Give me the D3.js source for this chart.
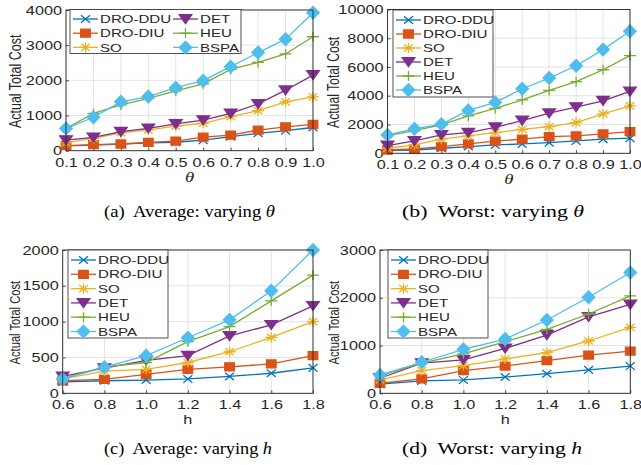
<!DOCTYPE html>
<html>
<head>
<meta charset="utf-8">
<script src="https://cdn.jsdelivr.net/npm/d3@7"></script>
<style>
  body { margin: 0; background: #fff; }
  svg { font-family: "Liberation Sans", Arial, sans-serif; }
</style>
</head>
<body>
<svg id="fig" width="641" height="465"></svg>
<script>
const seriesNames = ["DRO-DDU", "DRO-DIU", "SO", "DET", "HEU", "BSPA"];
const seriesColors = ["#0072BD", "#D95319", "#EDB120", "#7E2F8E", "#77AC30", "#4DBEEE"];
const seriesMarkers = ["x", "square", "star", "triangleDown", "plus", "diamond"];

const thetaValues = [0.1, 0.2, 0.3, 0.4, 0.5, 0.6, 0.7, 0.8, 0.9, 1.0];
const hValues = [0.6, 0.8, 1.0, 1.2, 1.4, 1.6, 1.8];

// one row per series, same order as seriesNames
const avgThetaCost = [
  [140, 160, 190, 225, 240, 300, 400, 495, 570, 660],
  [145, 170, 190, 235, 275, 385, 445, 585, 680, 750],
  [230, 350, 510, 590, 700, 780, 970, 1140, 1390, 1530],
  [300, 380, 540, 635, 760, 870, 1060, 1330, 1720, 2150],
  [630, 1060, 1300, 1490, 1700, 1900, 2310, 2510, 2750, 3240],
  [630, 950, 1390, 1540, 1790, 1990, 2390, 2790, 3170, 3920]
];
const worstThetaCost = [
  [190, 230, 350, 470, 580, 650, 740, 860, 980, 1050],
  [230, 300, 470, 650, 840, 980, 1160, 1210, 1350, 1510],
  [350, 580, 980, 1210, 1440, 1670, 1860, 2140, 2740, 3300],
  [540, 860, 1280, 1440, 1810, 2280, 2790, 3210, 3650, 4300],
  [1230, 1580, 1980, 2600, 3120, 3720, 4370, 4980, 5810, 6790],
  [1280, 1700, 2020, 2980, 3540, 4490, 5230, 6090, 7210, 8490]
];
const avgHCost = [
  [160, 175, 185, 200, 235, 280, 355],
  [175, 195, 265, 335, 370, 410, 525],
  [200, 310, 335, 430, 580, 780, 1000],
  [235, 350, 460, 525, 800, 955, 1220],
  [200, 370, 430, 720, 930, 1290, 1650],
  [200, 365, 525, 775, 1025, 1430, 2000]
];
const worstHCost = [
  [190, 260, 280, 340, 410, 490, 570],
  [210, 300, 475, 570, 685, 800, 885],
  [280, 475, 580, 720, 850, 1095, 1380],
  [315, 630, 700, 940, 1220, 1600, 1860],
  [370, 630, 825, 1080, 1340, 1660, 2040],
  [385, 650, 920, 1135, 1535, 2010, 2530]
];

const avgThetaTicks = [0, 1000, 2000, 3000, 4000];
const worstThetaTicks = [0, 2000, 4000, 6000, 8000, 10000];
const avgHTicks = [0, 500, 1000, 1500, 2000];
const worstHTicks = [0, 1000, 2000, 3000];

const captions = [
  ["(a)\u00a0 Average: varying ", "θ"],
  ["(b)\u00a0 Worst: varying ", "θ"],
  ["(c)\u00a0 Average: varying ", "h"],
  ["(d)\u00a0 Worst: varying ", "h"]
];

const SX = 1.3;   // the figure is stretched horizontally
const SERIF = "'Liberation Serif', 'Times New Roman', serif";
const svg = d3.select("#fig");

function markerPath(type) {
  switch (type) {
    case "x": return "M-4.5,-3.8L4.5,3.8M-4.5,3.8L4.5,-3.8";
    case "plus": return "M-6,0L6,0M0,-5L0,5";
    case "star": return "M-6,0L6,0M0,-5L0,5M-4.3,-3.6L4.3,3.6M-4.3,3.6L4.3,-3.6";
    case "square": return "M-4.8,-4L4.8,-4L4.8,4L-4.8,4Z";
    case "triangleDown": return "M-6.3,-4.3L6.3,-4.3L0,4.6Z";
    case "diamond": return "M0,-6.3L6.2,0L0,6.3L-6.2,0Z";
  }
}
const filled = t => ["square", "triangleDown", "diamond"].includes(t);

function drawMarker(g, i, x, y) {
  const t = seriesMarkers[i];
  g.append("path")
    .attr("transform", `translate(${x},${y})`)
    .attr("d", markerPath(t))
    .attr("fill", filled(t) ? seriesColors[i] : "none")
    .attr("stroke", seriesColors[i])
    .attr("stroke-width", 1.3);
}

function stext(g, x, y, str, size) {
  return g.append("g")
    .attr("transform", `translate(${x},${y}) scale(${SX},1)`)
    .append("text")
    .attr("font-size", size)
    .attr("fill", "#262626")
    .text(str);
}

function drawPanel(p) {
  const g = svg.append("g");
  const x = d3.scaleLinear().domain(p.xDomain).range([p.x0, p.x1]);
  const y = d3.scaleLinear().domain([0, d3.max(p.yTicks)]).range([p.y1, p.y0]);

  // grid
  g.append("g").selectAll("line").data(p.xs).join("line")
    .attr("x1", d => x(d)).attr("x2", d => x(d))
    .attr("y1", p.y0).attr("y2", p.y1)
    .attr("stroke", "#e3e3e3").attr("stroke-width", 1);
  g.append("g").selectAll("line").data(p.yTicks).join("line")
    .attr("x1", p.x0).attr("x2", p.x1)
    .attr("y1", d => y(d)).attr("y2", d => y(d))
    .attr("stroke", "#e3e3e3").attr("stroke-width", 1);

  // axes
  const ax = g.append("g").attr("transform", `translate(0,${p.y1})`)
    .call(d3.axisBottom(x).tickValues(p.xs).tickFormat(d3.format(".1f"))
      .tickSize(-3).tickSizeOuter(0).tickPadding(7));
  const ay = g.append("g").attr("transform", `translate(${p.x0},0)`)
    .call(d3.axisLeft(y).tickValues(p.yTicks).tickFormat(d3.format("d"))
      .tickSize(-3).tickSizeOuter(0).tickPadding(4 / SX));
  [ax, ay].forEach(a => {
    a.select(".domain").remove();
    a.selectAll("line").attr("stroke", "#262626").attr("stroke-width", 0.8);
    a.selectAll("text").attr("font-size", 12.5)
      .style("font-family", "'Liberation Sans', Arial, sans-serif")
      .attr("fill", "#262626")
      .attr("transform", `scale(${SX},1)`);
  });

  // series
  const line = d3.line().x((d, k) => x(p.xs[k])).y(d => y(d));
  p.data.forEach((vals, i) => {
    g.append("path").attr("d", line(vals))
      .attr("fill", "none").attr("stroke", seriesColors[i]).attr("stroke-width", 1.3);
    vals.forEach((v, k) => drawMarker(g, i, x(p.xs[k]), y(v)));
  });

  // box
  g.append("rect").attr("x", p.x0).attr("y", p.y0)
    .attr("width", p.x1 - p.x0).attr("height", p.y1 - p.y0)
    .attr("fill", "none").attr("stroke", "#262626").attr("stroke-width", 0.9);

  // labels
  g.append("g")
    .attr("transform", `translate(${p.yLabelX},${(p.y0 + p.y1) / 2 + 1}) scale(${SX},1) rotate(-90)`)
    .append("text").attr("text-anchor", "middle").attr("dy", "0.35em")
    .attr("fill", "#262626")
    .attr("font-size", p.yLabelSize).text("Actual Total Cost");
  const xl = stext(g, (p.x0 + p.x1) / 2, p.y1 + 26, p.xLabel, p.xLabelSerif ? 14.5 : 12.5)
    .attr("text-anchor", "middle").attr("dy", "0.35em");
  if (p.xLabelSerif) xl.style("font-family", SERIF).style("font-style", "italic");

  // legend
  const L = p.legend;
  const lg = g.append("g");
  lg.append("rect").attr("x", L.x).attr("y", L.y).attr("width", L.w).attr("height", L.h)
    .attr("fill", "#fff").attr("stroke", "#262626").attr("stroke-width", 0.8);
  seriesNames.forEach((name, i) => {
    const col = Math.floor(i / L.rows), row = i % L.rows;
    const lx = L.x + 3 + col * L.colW, ly = L.y + L.first + row * L.rowH;
    lg.append("line").attr("x1", lx).attr("x2", lx + 25).attr("y1", ly).attr("y2", ly)
      .attr("stroke", seriesColors[i]).attr("stroke-width", 1.3);
    drawMarker(lg, i, lx + 12.5, ly);
    stext(lg, lx + 27, ly, name, 11.6).attr("dy", "0.36em");
  });

  // caption
  const cap = svg.append("text").attr("x", p.capX).attr("y", p.capY)
    .style("font-family", SERIF)
    .attr("font-size", 17).attr("fill", "#000")
    .attr("textLength", p.capW).attr("lengthAdjust", "spacingAndGlyphs");
  cap.append("tspan").text(p.caption[0]);
  cap.append("tspan").style("font-style", "italic").text(p.caption[1]);
}

drawPanel({
  x0: 66, x1: 313, y0: 10, y1: 150.7, xs: thetaValues, xDomain: [0.1, 1.0],
  yTicks: avgThetaTicks, data: avgThetaCost, xLabel: "θ", xLabelSerif: true,
  yLabelX: 15, yLabelSize: 12.5,
  legend: { x: 70, y: 9.5, w: 171, h: 44, rows: 3, colW: 100, first: 9.5, rowH: 14.2 },
  caption: captions[0], capX: 104, capY: 217, capW: 171
});
drawPanel({
  x0: 387.5, x1: 630, y0: 9.5, y1: 153.3, xs: thetaValues, xDomain: [0.1, 1.0],
  yTicks: worstThetaTicks, data: worstThetaCost, xLabel: "θ", xLabelSerif: true,
  yLabelX: 333.5, yLabelSize: 12.2,
  legend: { x: 393, y: 10, w: 100, h: 87, rows: 6, colW: 100, first: 10, rowH: 14 },
  caption: captions[1], capX: 402, capY: 217, capW: 182
});
drawPanel({
  x0: 62.7, x1: 313, y0: 250, y1: 393.3, xs: hValues, xDomain: [0.6, 1.8],
  yTicks: avgHTicks, data: avgHCost, xLabel: "h", xLabelSerif: false,
  yLabelX: 14.5, yLabelSize: 11.2,
  legend: { x: 68, y: 250, w: 100, h: 88, rows: 6, colW: 100, first: 10, rowH: 14.3 },
  caption: captions[2], capX: 104, capY: 454, capW: 168
});
drawPanel({
  x0: 380, x1: 630.3, y0: 250, y1: 393.3, xs: hValues, xDomain: [0.6, 1.8],
  yTicks: worstHTicks, data: worstHCost, xLabel: "h", xLabelSerif: false,
  yLabelX: 333.5, yLabelSize: 11.2,
  legend: { x: 388, y: 250, w: 100, h: 88, rows: 6, colW: 100, first: 10, rowH: 14.3 },
  caption: captions[3], capX: 402, capY: 454, capW: 180
});
</script>
</body>
</html>
